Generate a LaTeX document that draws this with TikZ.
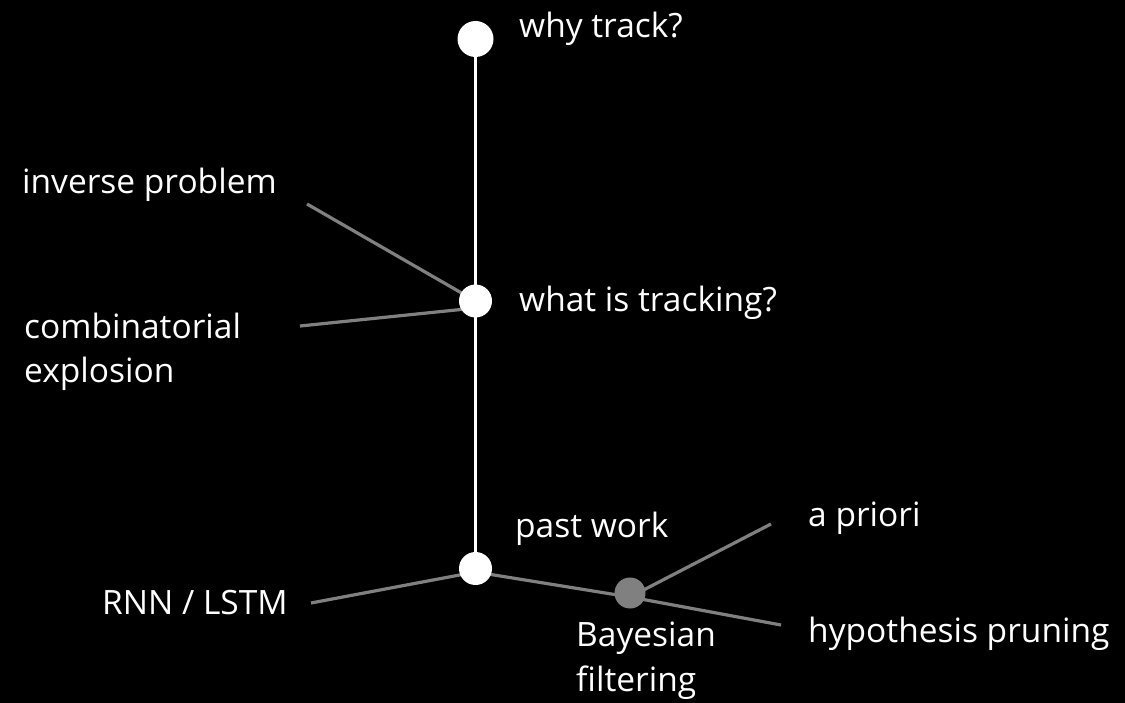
\documentclass[tikz,border=0pt]{standalone}
\usepackage{fontspec}
\setmainfont{Open Sans}
\definecolor{linegray}{RGB}{128,128,128}
\tikzset{
  lbl/.style={anchor=base west, inner sep=0pt, text=white, font=\fontsize{33.5}{44.5}\selectfont, align=left},
  bigdot/.style={circle, fill=white, draw=none, inner sep=0pt, minimum size=#1},
  graydot/.style={circle, fill=linegray, draw=none, inner sep=0pt, minimum size=31pt},
  spoke/.style={draw=linegray, line width=3.2pt},
  trunk/.style={draw=white, line width=3pt}
}
\begin{document}
\begin{tikzpicture}[x=1pt,y=-1pt]
\fill[black] (0,0) rectangle (1125,703);
\useasboundingbox (0,0) rectangle (1125,703);
% hubs
\coordinate (top) at (475.5,39);
\coordinate (mid) at (475.5,301);
\coordinate (bot) at (475.5,568.5);
\coordinate (bay) at (630,597);
% spoke ends
\coordinate (eInv) at (307,204);
\coordinate (eComb) at (300,326);
\coordinate (midComb) at (475.5,308);
\coordinate (eRnn) at (311,603);
\coordinate (botRnn) at (475.5,572);
\coordinate (ePri) at (771,524);
\coordinate (eHyp) at (781,625);
% lines
\draw[trunk] (top) -- (bot);
\draw[spoke] (eInv) -- (mid);
\draw[spoke] (eComb) -- (midComb);
\draw[spoke] (eRnn) -- (botRnn);
\draw[spoke] (botRnn) -- (bay);
\draw[spoke] (bay) -- (ePri);
\draw[spoke] (bay) -- (eHyp);
% dots
\node[bigdot=36pt] (ntop) at (top) {};
\node[bigdot=33pt] (nmid) at (mid) {};
\node[bigdot=33pt] (nbot) at (bot) {};
\node[graydot] (nbay) at (630,593) {};
% labels
\node[lbl] (tWhy) at (519,38) {why track?};
\node[lbl] (tInv) at (22,194) {inverse problem};
\node[lbl] (tWhat) at (519,312) {what is tracking?};
\node[lbl] (tComb) at (24,383) {combinatorial\\explosion};
\node[lbl] (tPast) at (515,537) {past work};
\node[lbl] (tPri) at (808,526) {a priori};
\node[lbl] (tRnn) at (102,614) {RNN / LSTM};
\node[lbl] (tBay) at (576,691) {Bayesian\\filtering};
\node[lbl] (tHyp) at (808,642) {hypothesis pruning};
\end{tikzpicture}
\end{document}
